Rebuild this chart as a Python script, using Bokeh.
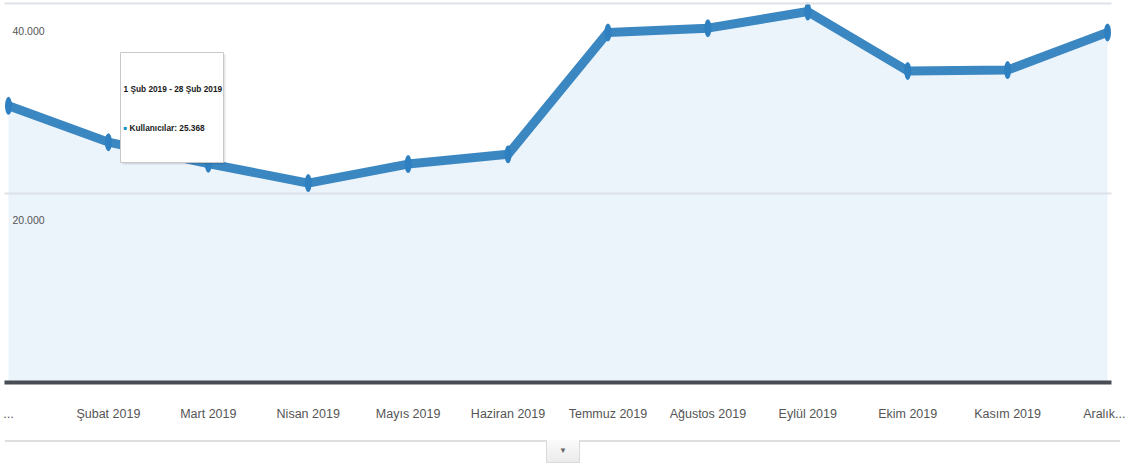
from bokeh.plotting import figure
from bokeh.models import Range1d, FixedTicker, Label, BoxAnnotation, Div
from bokeh.layouts import column
from bokeh.core.properties import value
from bokeh.embed import file_html
from bokeh.resources import INLINE

# ---- data ----
month_labels = ["...", "Şubat 2019", "Mart 2019", "Nisan 2019", "Mayıs 2019", "Haziran 2019",
                "Temmuz 2019", "Ağustos 2019", "Eylül 2019", "Ekim 2019", "Kasım 2019", "Aralık..."]
users = [29200, 25368, 23100, 21050, 23050, 24080, 36950, 37400, 39150, 32880, 32980, 36950]
y_ticks = [20000, 40000]
y_tick_labels = ["20.000", "40.000"]
tooltip_title = "1 Şub 2019 - 28 Şub 2019"
tooltip_series = "Kullanıcılar"
tooltip_index = 1

x = list(range(len(users)))

FONT = "Liberation Sans"
W, H = 1125, 440
BL, BR, BT, BB = 4, 14, 0, 58
X0, X1 = -0.04, 11.04
Y0, Y1 = 0, 40317
FW, FH = W - BL - BR, H - BT - BB


def dx(px):
    return X0 + (px - BL) * (X1 - X0) / FW


def dy(py):
    return Y1 - (py - BT) * (Y1 - Y0) / FH


p = figure(width=W, height=H, output_backend="svg", toolbar_location=None, tools="",
           x_range=Range1d(X0, X1), y_range=Range1d(Y0, Y1),
           min_border_left=BL, min_border_right=BR, min_border_top=BT, min_border_bottom=BB,
           margin=0)
p.outline_line_color = None
p.background_fill_color = "white"
p.border_fill_color = "white"

p.varea(x=x, y1=0, y2=users, fill_color="#ebf3fb")
p.line(x, users, line_color="#3b87c2", line_width=9, line_join="round")
p.ellipse(x=x, y=users, width=7, height=18, width_units="screen", height_units="screen",
          fill_color="#2f80c0", line_color=None)

# x axis
p.xaxis.ticker = FixedTicker(ticks=x)
p.xaxis.major_label_overrides = {i: lab for i, lab in enumerate(month_labels)}
p.xaxis.axis_line_color = "#474d52"
p.xaxis.axis_line_width = 4
p.xaxis.major_tick_line_color = None
p.xaxis.minor_tick_line_color = None
p.xaxis.major_label_text_font = FONT
p.xaxis.major_label_text_font_size = "12.5px"
p.xaxis.major_label_text_color = "#555555"
p.xaxis.major_label_standoff = 18
p.xgrid.visible = False

# y axis / grid
p.yaxis.visible = False
p.yaxis.ticker = FixedTicker(ticks=y_ticks)
p.ygrid.ticker = FixedTicker(ticks=y_ticks)
p.ygrid.grid_line_color = "#dde2e7"
p.ygrid.grid_line_width = 2
p.ygrid.level = "guide"

p.text(x=[0] * len(y_ticks), y=y_ticks, text=y_tick_labels, x_offset=4, y_offset=27,
       text_font=value(FONT), text_font_size="10.5px", text_color="#555555",
       text_baseline="middle", text_align="left")

# tooltip
p.add_layout(BoxAnnotation(left=dx(122), right=dx(225), top=dy(54), bottom=dy(164),
                           fill_color="black", fill_alpha=0.10, line_color=None))
p.add_layout(BoxAnnotation(left=dx(120), right=dx(223), top=dy(52), bottom=dy(162),
                           fill_color="white", fill_alpha=1.0, line_color="#c8c8c8",
                           line_alpha=1.0, line_width=1, line_dash="solid"))
p.add_layout(Label(x=dx(123), y=dy(88), text=tooltip_title, text_font=FONT,
                   text_font_style="bold", text_font_size="8.3px", text_color="#1a1a1a",
                   text_baseline="middle", text_align="left"))
p.add_layout(Label(x=dx(123), y=dy(127), text="■", text_font_size="6px", text_color="#058dc7",
                   text_baseline="middle", text_align="left"))
val_txt = f"{users[tooltip_index]:,}".replace(",", ".")
p.add_layout(Label(x=dx(129), y=dy(127), text=f"{tooltip_series}: {val_txt}", text_font=FONT,
                   text_font_style="bold", text_font_size="8.3px", text_color="#1a1a1a",
                   text_baseline="middle", text_align="left"))

div = Div(text=(
    '<div style="position:relative;width:1115px;height:21px;margin-left:5px;'
    'border-top:2px solid #dedede;overflow:visible;">'
    '<div style="position:absolute;left:541px;top:-2px;width:34px;height:23px;box-sizing:border-box;'
    'background:linear-gradient(#fbfbfb,#ebebeb);border:1px solid #dadada;border-top:none;'
    'color:#666;font:8px sans-serif;text-align:center;line-height:22px;">▼</div></div>'),
    width=W, height=23, margin=0)

layout = column(p, div, spacing=0, margin=0)

open("out.html", "w").write(file_html(layout, INLINE))
